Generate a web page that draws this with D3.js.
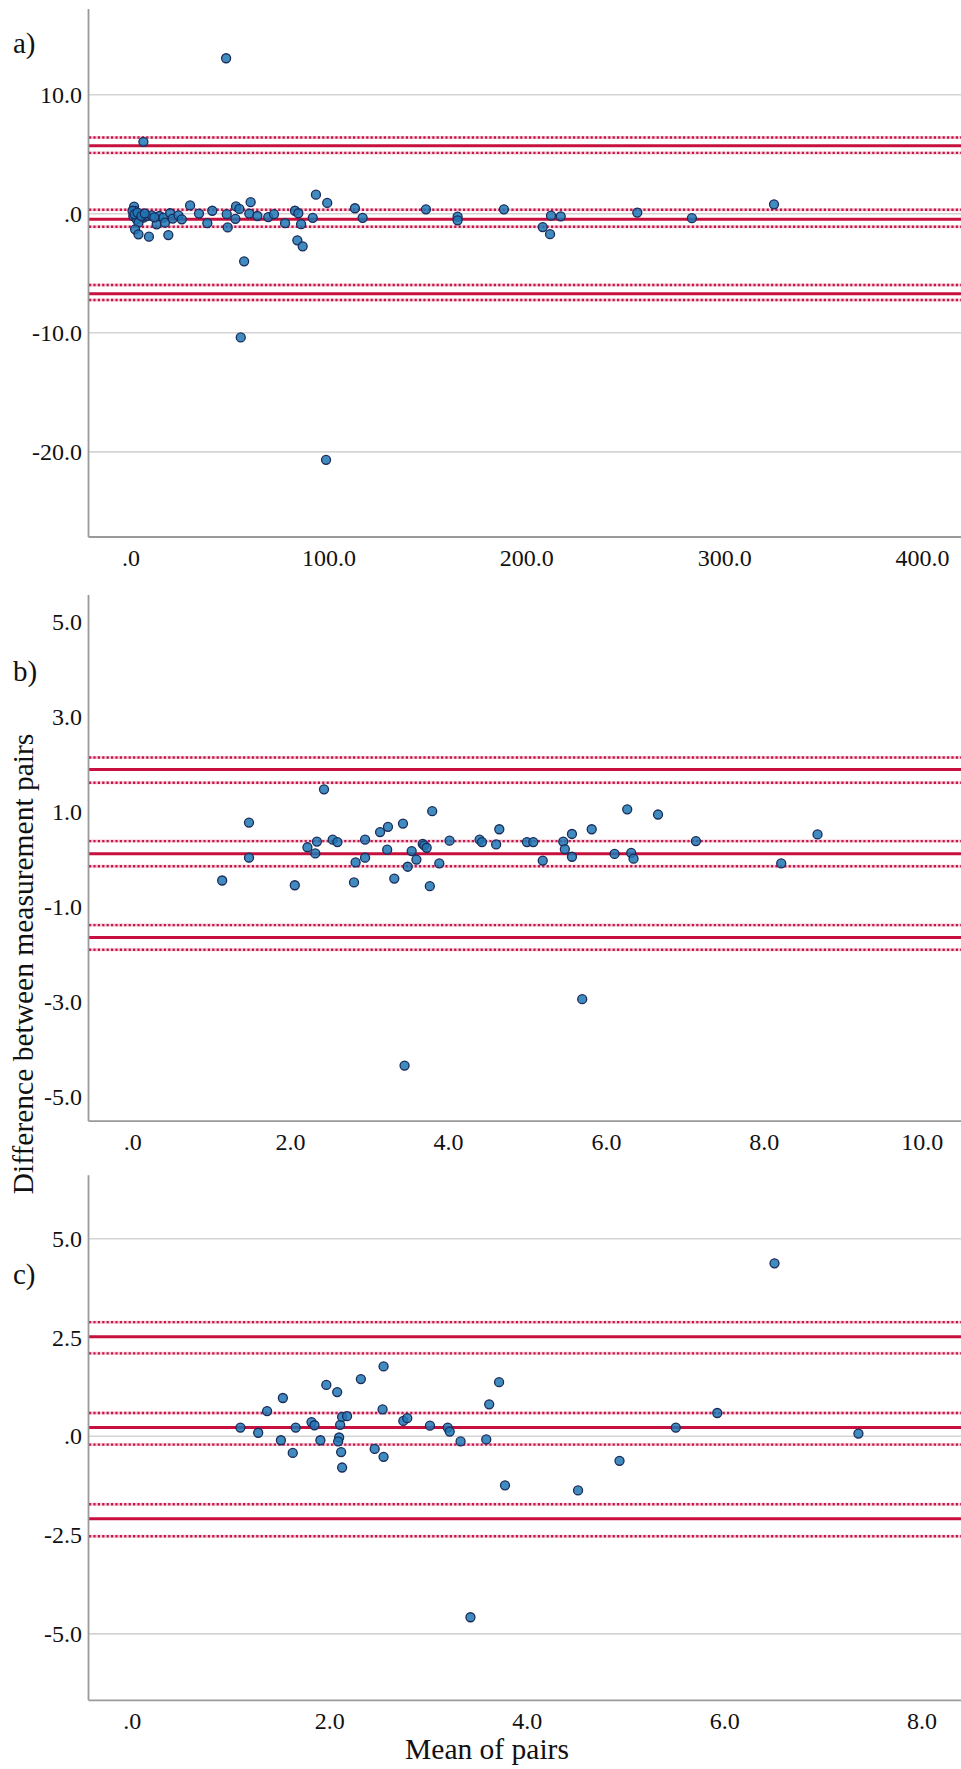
<!DOCTYPE html>
<html>
<head>
<meta charset="utf-8">
<script src="https://cdn.jsdelivr.net/npm/d3@7"></script>
<style>
  body { margin: 0; background: #fff; }
  svg { display: block; }
  svg text { font-family: "Liberation Serif", "Times New Roman", serif; }
</style>
</head>
<body>
<svg width="961" height="1769"></svg>
<script>
// ---- panel a ----
var aMean = [1.8, 2.3, 1.4, 3.1, 4.8, 6.5, 4.0, 2.3, 4.0, 9.3, 8.2, 10.7, 13.2, 14.6, 16.6, 17.4, 20.0, 21.3, 24.2, 25.9, 19.1,
             1.0, 2.0, 3.5, 5.5, 7.2, 12.0, 6.5,
             30.1, 34.6, 41.3, 38.8, 48.6, 49.1, 53.0, 53.3, 55.0, 57.4, 55.7, 60.7, 60.0, 64.1, 69.6, 72.5, 78.1, 83.1, 84.8,
             86.2, 84.3, 87.0, 92.1, 93.7, 99.4, 98.8, 113.4, 117.3, 149.3, 165.3, 165.3, 188.7, 208.3, 212.0, 212.5, 217.4,
             256.1, 283.7, 325.2, 48.3];
var aDiff = [0.6, 0.24, -0.19, -0.47, -0.04, -0.33, -0.75, -1.31, -1.73, -1.93, -0.19, -0.13, -0.89, -0.19, -0.33, -0.75, 0.04, -0.41, -0.13, -0.47, -1.79,
             0.25, -0.05, 0.1, -0.2, 0.02, -0.3, 6.04,
             0.70, 0.01, 0.25, -0.79, -0.04, -1.15, -0.43, 0.61, 0.40, -4.0, -10.39, 0.97, 0.01, -0.19, -0.28, -0.04, -0.79, 0.25, 0.04,
             -0.88, -2.23, -2.74, -0.34, 1.6, 0.91, -20.67, 0.46, -0.34, 0.37, -0.25, -0.55, 0.37, -1.12, -1.72, -0.16, -0.22,
             0.10, -0.37, 0.79, 13.06];
var aLimits = [5.71, -0.47, -6.73];            // upper LoA, mean difference, lower LoA
var aCI = [6.40, 5.11, 0.33, -1.09, -5.98, -7.24];
var aXTicks = [0, 100, 200, 300, 400];
var aYTicks = [10, 0, -10, -20];
var aGrid = [10, 0, -10, -20];
var aXDomain = [-21.5, 419.7], aYDomain = [-27.11, 17.23];

// ---- panel b ----
var bMean = [1.14, 1.48, 1.48, 2.06, 2.22, 2.32, 2.34, 2.43, 2.54, 2.60, 2.81, 2.83, 2.95, 2.95, 3.14, 3.24, 3.23, 3.32, 3.43, 3.45,
             3.49, 3.54, 3.60, 3.68, 3.70, 3.73, 3.80, 3.77, 3.89, 4.02, 4.40, 4.43, 4.61, 4.65, 5.00, 5.08, 5.20, 5.46, 5.48, 5.57,
             5.57, 5.70, 5.82, 6.11, 6.27, 6.32, 6.35, 6.66, 7.14, 8.22, 8.68];
var bDiff = [-0.44, 0.78, 0.04, -0.54, 0.26, 0.13, 0.38, 1.48, 0.42, 0.37, -0.48, -0.06, 0.42, 0.04, 0.58, 0.69, 0.21, -0.40, 0.76, -4.34,
             -0.15, 0.18, 0.0, 0.33, 0.30, 0.25, 1.02, -0.56, -0.08, 0.40, 0.42, 0.37, 0.32, 0.64, 0.37, 0.37, -0.02, 0.38, 0.22, 0.54,
             0.06, -2.94, 0.64, 0.12, 1.06, 0.14, 0.02, 0.95, 0.39, -0.08, 0.53];
var bLimits = [1.90, 0.125, -1.64];
var bCI = [2.15, 1.62, 0.39, -0.14, -1.38, -1.90];
var bXTicks = [0, 2, 4, 6, 8, 10];
var bYTicks = [5, 3, 1, -1, -3, -5];
var bGrid = [];
var bXDomain = [-0.559, 10.497], bYDomain = [-5.499, 5.588];

// ---- panel c ----
var cMean = [1.10, 1.28, 1.37, 1.53, 1.51, 1.63, 1.66, 1.82, 1.85, 1.91, 1.97, 2.08, 2.11, 2.10, 2.09, 2.12, 2.13, 2.13, 2.18, 2.32,
             2.46, 2.55, 2.54, 2.55, 2.75, 2.79, 3.02, 3.20, 3.22, 3.33, 3.43, 3.72, 3.62, 3.59, 3.78, 4.52, 4.94, 5.51, 5.93, 6.51, 7.36];
var cDiff = [0.22, 0.09, 0.64, 0.97, -0.10, -0.42, 0.22, 0.36, 0.28, -0.10, 1.30, 1.12, 0.29, -0.03, -0.13, -0.40, -0.79, 0.49, 0.51, 1.45,
             -0.32, -0.52, 0.68, 1.77, 0.39, 0.46, 0.27, 0.22, 0.12, -0.13, -4.58, 1.37, 0.81, -0.08, -1.24, -1.37, -0.62, 0.22, 0.59, 4.38, 0.07];
var cLimits = [2.52, 0.22, -2.09];
var cCI = [2.89, 2.10, 0.59, -0.21, -1.72, -2.53];
var cXTicks = [0, 2, 4, 6, 8];
var cYTicks = [5, 2.5, 0, -2.5, -5];
var cGrid = [5, 0, -5];
var cXDomain = [-0.444, 8.399], cYDomain = [-6.67, 6.62];

var svg = d3.select("svg"),
    left = 88, right = 961;

function fmt(d) {
  if (d === 0) return ".0";
  return (d < 0 ? "-" : "") + Math.abs(d).toFixed(1);
}

function drawPanel(p) {
  var x = d3.scaleLinear().domain(p.xDomain).range([left, right]),
      y = d3.scaleLinear().domain(p.yDomain).range([p.bottom, p.top]);
  var g = svg.append("g");

  // grid
  g.selectAll(".grid").data(p.grid).enter().append("line")
      .attr("x1", left).attr("x2", right)
      .attr("y1", function(d) { return y(d); }).attr("y2", function(d) { return y(d); })
      .attr("stroke", "#d4d4d4").attr("stroke-width", 1.6);

  // confidence intervals, dotted
  g.selectAll(".cihalo").data(p.ci).enter().append("line")
      .attr("x1", left + 1).attr("x2", right)
      .attr("y1", function(d) { return y(d); }).attr("y2", function(d) { return y(d); })
      .attr("stroke", "#f4c9d5").attr("stroke-width", 3);
  g.selectAll(".ci").data(p.ci).enter().append("line")
      .attr("x1", left + 1).attr("x2", right)
      .attr("y1", function(d) { return y(d); }).attr("y2", function(d) { return y(d); })
      .attr("stroke", "#c5164a").attr("stroke-width", 2.4)
      .attr("stroke-dasharray", "2.2,2.2");

  // mean and limits of agreement
  g.selectAll(".lim").data(p.limits).enter().append("line")
      .attr("x1", left + 1).attr("x2", right)
      .attr("y1", function(d) { return y(d); }).attr("y2", function(d) { return y(d); })
      .attr("stroke", "#c8103e").attr("stroke-width", 3);

  // points
  g.selectAll(".pt").data(p.xs).enter().append("circle")
      .attr("cx", function(d) { return x(d); })
      .attr("cy", function(d, i) { return y(p.ys[i]); })
      .attr("r", 4.5)
      .attr("fill", "#1f77b4").attr("fill-opacity", 0.85)
      .attr("stroke", "#1b2c5a").attr("stroke-width", 1.3);

  // axes
  var ax = g.append("g")
      .attr("transform", "translate(0," + p.bottom + ")")
      .call(d3.axisBottom(x).tickValues(p.xTicks).tickFormat(fmt).tickSize(0).tickSizeOuter(0).tickPadding(12));
  var ay = g.append("g")
      .attr("transform", "translate(" + left + ",0)")
      .call(d3.axisLeft(y).tickValues(p.yTicks).tickFormat(fmt).tickSize(0).tickSizeOuter(0).tickPadding(6));
  [ax, ay].forEach(function(a) {
    a.attr("font-family", null).attr("font-size", null);
    a.select(".domain").attr("stroke", "#9a9a9a").attr("stroke-width", 1.8);
    a.selectAll("text")
        .style("font-family", '"Liberation Serif", "Times New Roman", serif')
        .style("font-size", "24px")
        .attr("fill", "#111");
  });

  svg.append("text")
      .attr("x", 13).attr("y", p.labelY)
      .attr("font-size", 29).attr("fill", "#111")
      .text(p.label);
}

drawPanel({label: "a)", labelY: 53, top: 8.6, bottom: 536.5, xDomain: aXDomain, yDomain: aYDomain,
           xs: aMean, ys: aDiff, limits: aLimits, ci: aCI, xTicks: aXTicks, yTicks: aYTicks, grid: aGrid});
drawPanel({label: "b)", labelY: 681, top: 594.4, bottom: 1120.6, xDomain: bXDomain, yDomain: bYDomain,
           xs: bMean, ys: bDiff, limits: bLimits, ci: bCI, xTicks: bXTicks, yTicks: bYTicks, grid: bGrid});
drawPanel({label: "c)", labelY: 1284, top: 1174.8, bottom: 1699.8, xDomain: cXDomain, yDomain: cYDomain,
           xs: cMean, ys: cDiff, limits: cLimits, ci: cCI, xTicks: cXTicks, yTicks: cYTicks, grid: cGrid});

svg.append("text")
    .attr("transform", "translate(33,964) rotate(-90)")
    .attr("text-anchor", "middle")
    .attr("font-size", 29.5).attr("fill", "#111")
    .text("Difference between measurement pairs");

svg.append("text")
    .attr("x", 487).attr("y", 1759)
    .attr("text-anchor", "middle")
    .attr("font-size", 29.5).attr("fill", "#111")
    .text("Mean of pairs");
</script>
</body>
</html>
